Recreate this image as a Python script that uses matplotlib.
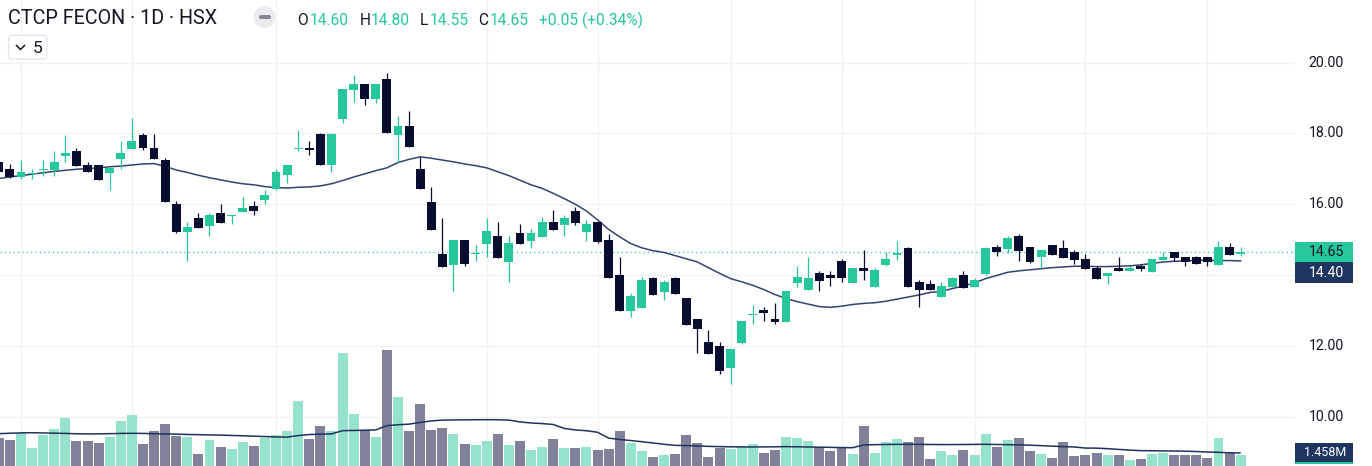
import matplotlib
matplotlib.use("Agg")
import matplotlib.pyplot as plt
from matplotlib.patches import Rectangle, FancyBboxPatch, Circle
from matplotlib.lines import Line2D
import numpy as np

plt.rcParams['font.family'] = ['Roboto', 'DejaVu Sans']

# ---------------- data ----------------
opens = [17.19, 17.00, 16.78, 16.85, 16.97, 16.97, 17.37, 17.51, 17.11, 17.11,
         16.89, 17.28, 17.56, 17.96, 17.59, 17.25, 16.01, 15.23, 15.61, 15.40,
         15.75, 15.67, 15.79, 15.95, 16.12, 16.44, 16.83, 17.55, 17.58, 17.99,
         17.12, 18.42, 19.24, 19.40, 18.98, 19.54, 17.97, 18.21, 17.00, 16.07,
         14.60, 14.29, 14.99, 14.59, 14.89, 15.10, 14.38, 15.19, 14.97, 15.08,
         15.50, 15.42, 15.81, 15.23, 15.50, 14.99, 14.00, 12.99, 13.08, 13.92,
         13.53, 13.92, 13.35, 12.76, 12.11, 12.00, 11.38, 12.08, 12.88, 13.01,
         12.76, 12.68, 13.79, 13.59, 14.06, 14.00, 14.40, 13.79, 14.20, 13.67,
         14.29, 14.58, 14.77, 13.80, 13.75, 13.39, 13.67, 14.00, 13.67, 14.04,
         14.79, 14.74, 15.10, 14.79, 14.51, 14.85, 14.77, 14.65, 14.45, 14.20,
         13.98, 14.21, 14.12, 14.26, 14.10, 14.44, 14.65, 14.51, 14.51, 14.51,
         14.29, 14.79, 14.60]
highs = [17.25, 17.14, 17.25, 17.00, 17.25, 17.50, 17.96, 17.60, 17.20, 17.12,
         17.03, 17.79, 18.44, 18.00, 17.99, 17.30, 16.09, 15.50, 15.75, 15.75,
         16.01, 15.70, 16.21, 16.09, 16.40, 17.00, 17.12, 18.10, 17.79, 18.00,
         18.00, 19.27, 19.65, 19.41, 19.41, 19.71, 18.49, 18.64, 17.34, 16.49,
         15.61, 15.00, 15.00, 14.85, 15.61, 15.50, 15.10, 15.44, 15.30, 15.64,
         15.84, 15.70, 15.92, 15.56, 15.51, 15.16, 14.51, 13.49, 13.95, 13.95,
         13.86, 13.95, 13.36, 12.77, 12.45, 12.11, 11.92, 12.71, 13.16, 13.10,
         13.21, 13.56, 14.26, 14.51, 14.12, 14.12, 14.45, 14.21, 14.71, 14.20,
         14.65, 14.96, 14.78, 13.86, 13.86, 13.81, 13.95, 14.12, 13.92, 14.78,
         14.85, 15.10, 15.16, 14.80, 14.72, 14.86, 14.99, 14.71, 14.60, 14.26,
         14.07, 14.51, 14.25, 14.31, 14.46, 14.65, 14.66, 14.52, 14.54, 14.52,
         14.96, 14.91, 14.80]
lows = [16.88, 16.75, 16.72, 16.71, 16.81, 16.81, 17.20, 17.09, 16.92, 16.68,
        16.40, 17.00, 17.56, 17.52, 17.28, 16.06, 15.20, 14.41, 15.33, 15.11,
        15.47, 15.45, 15.79, 15.71, 16.01, 16.40, 16.61, 17.51, 17.40, 17.11,
        16.92, 18.31, 18.90, 18.81, 18.87, 18.01, 17.20, 17.62, 16.43, 15.27,
        14.23, 13.56, 14.27, 14.40, 14.52, 14.48, 13.81, 14.88, 14.77, 15.07,
        15.27, 15.11, 15.42, 14.97, 14.92, 13.92, 12.98, 12.82, 13.07, 13.44,
        13.31, 13.46, 12.59, 11.81, 11.77, 11.21, 10.92, 12.06, 12.62, 12.71,
        12.63, 12.67, 13.67, 13.58, 13.56, 13.70, 13.81, 13.78, 13.87, 13.66,
        14.26, 14.42, 13.66, 13.11, 13.58, 13.38, 13.66, 13.63, 13.66, 14.01,
        14.55, 14.63, 14.41, 14.34, 14.21, 14.57, 14.48, 14.32, 14.17, 13.89,
        13.76, 14.11, 14.11, 14.12, 14.09, 14.43, 14.41, 14.27, 14.31, 14.27,
        14.28, 14.57, 14.55]
closes = [16.92, 16.78, 16.92, 16.88, 17.00, 17.20, 17.45, 17.09, 16.92, 16.69,
          17.02, 17.45, 17.79, 17.58, 17.29, 16.07, 15.23, 15.36, 15.34, 15.70,
          15.48, 15.70, 15.90, 15.82, 16.26, 16.91, 17.11, 17.58, 17.54, 17.12,
          17.99, 19.26, 19.40, 18.98, 19.40, 18.02, 18.21, 17.63, 16.44, 15.28,
          14.24, 14.99, 14.32, 14.62, 15.25, 14.49, 14.91, 14.89, 15.19, 15.50,
          15.28, 15.61, 15.48, 15.44, 14.94, 13.93, 12.99, 13.41, 13.86, 13.45,
          13.81, 13.47, 12.60, 12.49, 11.78, 11.30, 11.91, 12.70, 12.91, 12.94,
          12.68, 13.55, 13.95, 13.92, 13.84, 13.93, 13.93, 14.20, 14.12, 14.14,
          14.45, 14.61, 13.67, 13.59, 13.59, 13.69, 13.92, 13.64, 13.86, 14.77,
          14.64, 15.05, 14.68, 14.37, 14.71, 14.58, 14.49, 14.44, 14.18, 13.90,
          14.06, 14.12, 14.20, 14.18, 14.45, 14.51, 14.49, 14.38, 14.32, 14.38,
          14.79, 14.58, 14.65]
ma20 = [16.73, 16.77, 16.81, 16.85, 16.89, 16.93, 16.96, 16.99, 17.01, 17.03,
        17.06, 17.08, 17.11, 17.14, 17.15, 17.07, 16.97, 16.90, 16.82, 16.75,
        16.69, 16.63, 16.58, 16.55, 16.50, 16.47, 16.46, 16.48, 16.49, 16.52,
        16.58, 16.67, 16.77, 16.86, 16.95, 17.03, 17.18, 17.27, 17.34, 17.30,
        17.25, 17.20, 17.14, 17.09, 17.03, 16.92, 16.81, 16.68, 16.55, 16.45,
        16.31, 16.16, 16.00, 15.81, 15.56, 15.29, 15.08, 14.89, 14.77, 14.69,
        14.64, 14.55, 14.46, 14.37, 14.21, 14.05, 13.90, 13.81, 13.71, 13.59,
        13.45, 13.34, 13.25, 13.18, 13.11, 13.09, 13.12, 13.17, 13.20, 13.22,
        13.26, 13.32, 13.38, 13.44, 13.51, 13.54, 13.62, 13.69, 13.78, 13.90,
        13.99, 14.08, 14.12, 14.15, 14.18, 14.21, 14.23, 14.25, 14.25, 14.24,
        14.24, 14.25, 14.26, 14.29, 14.33, 14.37, 14.39, 14.40, 14.42, 14.42,
        14.41, 14.41, 14.40]
volumes_m = [3.14, 2.91, 3.73, 2.02, 3.47, 4.14, 5.38, 2.80, 2.80, 2.58,
             3.28, 5.04, 5.71, 2.46, 3.92, 4.70, 3.36, 3.25, 1.34, 2.91,
             2.13, 1.90, 2.69, 2.24, 3.14, 3.47, 3.92, 7.28, 3.02, 4.48,
             3.92, 12.66, 5.82, 4.03, 3.25, 12.99, 7.73, 3.92, 6.94, 4.03,
             4.26, 3.58, 2.46, 2.35, 2.80, 3.58, 2.35, 2.80, 1.79, 2.13,
             3.02, 2.02, 2.02, 2.13, 1.79, 1.90, 3.92, 2.58, 1.68, 1.01,
             1.23, 1.34, 3.47, 2.58, 1.01, 2.02, 1.90, 2.24, 2.46, 1.46,
             1.79, 3.25, 3.14, 2.80, 2.13, 1.68, 2.13, 1.34, 4.48, 1.46,
             2.69, 3.02, 2.69, 3.25, 0.78, 1.68, 1.23, 1.79, 1.23, 3.58,
             2.13, 2.91, 3.14, 1.68, 1.34, 0.90, 2.69, 1.12, 1.23, 1.46,
             1.23, 1.23, 0.67, 0.78, 1.34, 1.46, 1.23, 1.23, 1.23, 0.90,
             3.14, 1.46, 1.23]
vol_ma_m = [3.62, 3.67, 3.71, 3.73, 3.70, 3.68, 3.65, 3.61, 3.59, 3.60,
            3.62, 3.65, 3.66, 3.65, 3.61, 3.59, 3.57, 3.53, 3.51, 3.48,
            3.46, 3.42, 3.39, 3.34, 3.30, 3.25, 3.23, 3.41, 3.52, 3.57,
            3.59, 3.96, 3.98, 4.01, 4.04, 4.52, 4.62, 4.69, 4.88, 5.05,
            5.14, 5.16, 5.17, 5.18, 5.19, 5.18, 5.14, 4.94, 4.82, 4.75,
            4.65, 4.21, 4.04, 3.95, 3.78, 3.12, 2.97, 2.85, 2.72, 2.58,
            2.43, 2.31, 2.29, 2.24, 2.20, 2.17, 2.15, 2.14, 2.13, 2.14,
            2.15, 2.17, 2.15, 2.13, 2.11, 2.09, 2.06, 2.05, 2.36, 2.39,
            2.41, 2.42, 2.43, 2.42, 2.41, 2.40, 2.40, 2.41, 2.42, 2.43,
            2.41, 2.39, 2.37, 2.33, 2.28, 2.22, 2.17, 2.13, 2.01, 2.00,
            1.94, 1.86, 1.78, 1.72, 1.71, 1.69, 1.68, 1.66, 1.62, 1.57,
            1.53, 1.48, 1.458]
grid_bar_idx = [2, 12, 25, 44, 54, 66, 76, 88, 98, 109]
price_ticks = [10, 12, 14, 16, 18, 20]
price_tick_labels = ["10.00", "12.00", "", "16.00", "18.00", "20.00"]
title = "CTCP FECON · 1D · HSX"
ohlc_parts = [("O", "14.60"), ("H", "14.80"), ("L", "14.55"), ("C", "14.65")]
change_text = "+0.05 (+0.34%)"
last_close = 14.65
last_ma = 14.40
last_vol_ma_label = "1.458M"

# ---------------- style ----------------
GREEN = '#27c79d'
DARK = '#080d30'
VGREEN = '#96e3cd'
VDARK = '#80829a'
MA_COL = '#34436f'
VMA_COL = '#1f325e'
NAVY = '#1e3461'
GRID = '#f0f1f4'
TXT = '#131722'

W, H = 1372, 466
fig = plt.figure(figsize=(W / 100, H / 100), dpi=100)
fig.patch.set_facecolor('white')
plot_w = 1295 / W
XLIM = (0.1064, 116.90)
PYLIM = (8.607, 21.771)
VYLIM = (0, 52.19)

o = np.array(opens); h = np.array(highs); l = np.array(lows); c = np.array(closes)
idx = np.arange(len(o))
up = c >= o
cols = np.where(up, GREEN, DARK)
vcols = np.where(up, VGREEN, VDARK)

# grid axes (bottom)
axg = fig.add_axes([0, 0, plot_w, 1])
axg.set_xlim(*XLIM); axg.set_ylim(*PYLIM)
axg.axis('off')
for g in grid_bar_idx:
    axg.axvline(g, color=GRID, lw=1.0, zorder=0)
for p in price_ticks:
    axg.axhline(p, color=GRID, lw=1.0, zorder=0)

# volume axes
axv = fig.add_axes([0, 0, plot_w, 1])
axv.patch.set_alpha(0)
axv.set_xlim(*XLIM); axv.set_ylim(*VYLIM)
axv.axis('off')
axv.bar(idx, volumes_m, width=0.9, color=vcols, linewidth=0, zorder=1)
axv.plot(idx, vol_ma_m, color=VMA_COL, lw=1.1, zorder=2, solid_capstyle='butt')

# price axes
ax = fig.add_axes([0, 0, plot_w, 1])
ax.patch.set_alpha(0)
ax.set_xlim(*XLIM); ax.set_ylim(*PYLIM)
ax.axis('off')
ax.axhline(last_close, color=GREEN, lw=0.9, ls=(0, (1, 2.5)), zorder=1)
ax.plot(idx, ma20, color=MA_COL, lw=1.1, zorder=2)
ax.vlines(idx, lows, highs, colors=cols, lw=0.9, zorder=3)
body_bottom = np.minimum(o, c)
body_h = np.maximum(np.abs(c - o), 0.03)
ax.bar(idx, body_h, bottom=body_bottom, width=0.8, color=cols, linewidth=0, zorder=4)

# right price scale
axr = fig.add_axes([plot_w, 0, 1 - plot_w, 1])
axr.set_xlim(0, W - 1295); axr.set_ylim(*PYLIM)
axr.axis('off')
for p, lab in zip(price_ticks, price_tick_labels):
    if lab:
        axr.text(31, p, lab, ha='center', va='center', fontsize=10.2, color=TXT)
ppx = 35.4  # pixels per price unit
bh1 = 20 / ppx
axr.add_patch(Rectangle((0, last_close - bh1 / 2), 57.7, bh1, color=GREEN, lw=0))
axr.text(31, last_close, f"{last_close:.2f}", ha='center', va='center', fontsize=10.2, color=TXT)
bh2 = 21 / ppx
y2 = last_close - bh1 / 2 - bh2
axr.add_patch(Rectangle((0, y2), 57.7, bh2, color=NAVY, lw=0))
axr.text(31, y2 + bh2 / 2, f"{last_ma:.2f}", ha='center', va='center', fontsize=10.2, color='white')

axrv = fig.add_axes([plot_w, 0, 1 - plot_w, 1])
axrv.patch.set_alpha(0)
axrv.set_xlim(0, W - 1295); axrv.set_ylim(*VYLIM)
axrv.axis('off')
vph = VYLIM[1] / H
vb = 18.4 * vph
vc = vol_ma_m[-1] + 0.4 * vph
axrv.add_patch(Rectangle((0, vc - vb / 2 - 2.5 * vph), 57.7, vb, color=GREEN, lw=0))
axrv.add_patch(Rectangle((0, vc - vb / 2), 57.7, vb, color=NAVY, lw=0))
axrv.text(30, vc, last_vol_ma_label, ha='center', va='center', fontsize=9.0, color='white')

# ---------------- header ----------------
tr = fig.dpi_scale_trans
def P(x, y):
    return (x / 100, (H - y) / 100)

fig.text(*P(8, 24.3), title, transform=tr, fontsize=14.2, color=TXT, va='baseline', ha='left')
fig.add_artist(Circle(P(264.5, 17), 0.11, transform=tr, color='#ebecef', lw=0))
fig.add_artist(FancyBboxPatch(P(259, 19), 0.12, 0.04, boxstyle='round,pad=0,rounding_size=0.02',
                              transform=tr, color='#868993', lw=0))

xs_letter = [297, 360, 420, 478]
xs_value = [310, 371, 430, 490]
for (letter, val), xl, xv in zip(ohlc_parts, xs_letter, xs_value):
    fig.text(*P(xl, 25), letter, transform=tr, fontsize=11.2, color=TXT, va='baseline')
    fig.text(*P(xv, 25), val, transform=tr, fontsize=11.2, color=GREEN, va='baseline')
fig.text(*P(539, 25), change_text, transform=tr, fontsize=11.2, color=GREEN, va='baseline')

fig.add_artist(FancyBboxPatch(P(8.5, 59), 0.385, 0.235, boxstyle='round,pad=0,rounding_size=0.03',
                              transform=tr, facecolor='white', edgecolor='#dfe1e6', lw=0.8))
fig.add_artist(Line2D([16.5 / 100, 20.5 / 100, 24.5 / 100],
                      [(H - 45.5) / 100, (H - 49.5) / 100, (H - 45.5) / 100],
                      transform=tr, color=TXT, lw=1.1))
fig.text(*P(33, 53.3), "5", transform=tr, fontsize=12.5, color=TXT, va='baseline')

fig.savefig('out.png', dpi=100)
